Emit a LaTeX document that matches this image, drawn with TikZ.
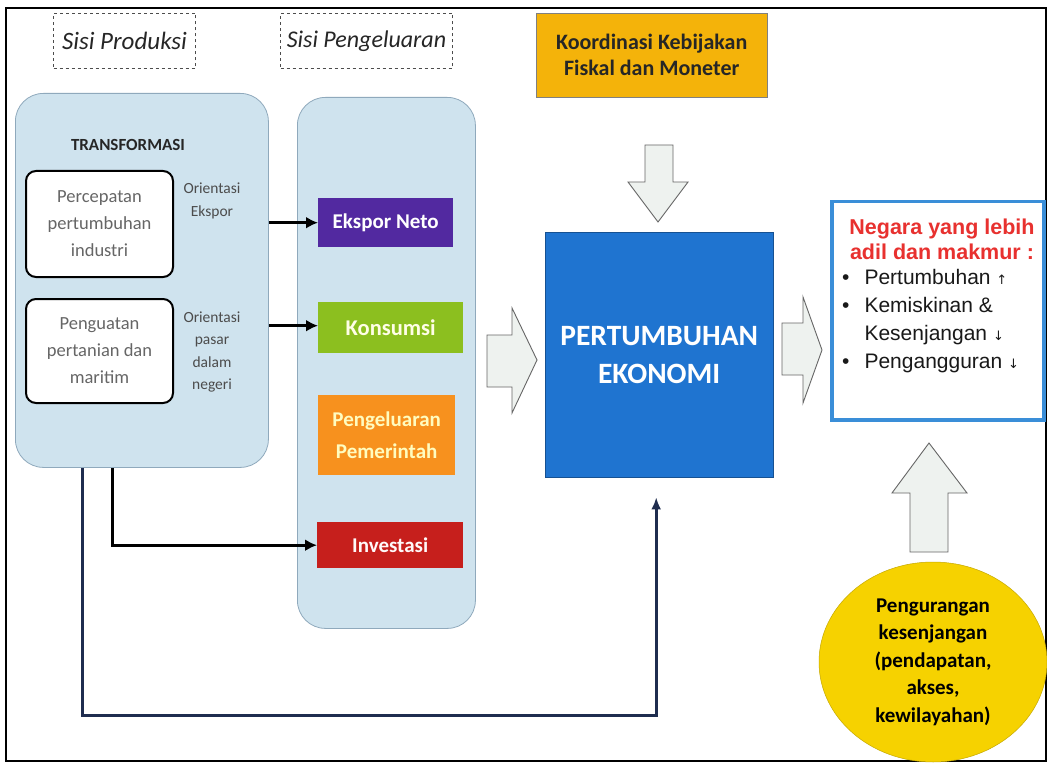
\documentclass[tikz,border=0pt]{standalone}
\usepackage{fontspec}
\setmainfont{Carlito}
\newfontfamily\arialf{Liberation Sans}
\newfontfamily\djv{DejaVu Sans}
\usetikzlibrary{arrows.meta,shapes.geometric,calc}
\definecolor{panelblue}{HTML}{CFE3EE}
\definecolor{paneledge}{HTML}{8FA9BC}
\definecolor{ekspor}{HTML}{5229A0}
\definecolor{konsumsi}{HTML}{8CBF1F}
\definecolor{pemerintah}{HTML}{F7911E}
\definecolor{investasi}{HTML}{C61F1C}
\definecolor{mainblue}{HTML}{1F74D0}
\definecolor{koord}{HTML}{F4B30A}
\definecolor{yellowell}{HTML}{F6D200}
\definecolor{resred}{HTML}{E8312F}
\definecolor{resblue}{HTML}{3A8ED8}
\definecolor{blockfill}{HTML}{EEF2EF}
\definecolor{navy}{HTML}{1F2D4F}
\begin{document}
\begin{tikzpicture}[x=1pt,y=-1pt,
  sisilbl/.style={draw=black!70, dashed, line width=1pt, minimum width=142, minimum height=55, anchor=north west, font=\itshape\fontsize{25}{28}\selectfont, text=black!85},
  panel/.style={draw=paneledge, fill=panelblue, line width=0.8pt, rounded corners=28, anchor=north west},
  inner/.style={draw=black, fill=white, line width=2pt, rounded corners=10, anchor=north west, minimum width=147, minimum height=106, align=center, text=black!60, font=\fontsize{18.5}{27}\selectfont},
  orient/.style={align=center, text=black!70, font=\fontsize{15.5}{22.5}\selectfont},
  comp/.style={anchor=north west, align=center, text=white, font=\bfseries\fontsize{21}{32}\selectfont},
  conn/.style={line width=3pt, black, -{Latex[length=12pt,width=12pt]}},
  fbline/.style={line width=3pt, navy, -{Latex[length=12pt,width=10pt]}},
  blockarrow/.style={draw=black!60, fill=blockfill, line width=0.9pt, line join=miter}
]
\useasboundingbox (0,0) rectangle (1047,770);
\fill[white] (0,0) rectangle (1047,770);
\draw[line width=2pt, black] (6,8) rectangle (1046,761);

% headers
\node[sisilbl] (sp) at (53,13) {Sisi Produksi};
\node[sisilbl, minimum width=172, font=\itshape\fontsize{24}{28}\selectfont] (spg) at (280,13) {Sisi Pengeluaran};
\node[draw=black!50, fill=koord, anchor=north west, minimum width=231, minimum height=84, align=center, font=\bfseries\fontsize{22}{26}\selectfont, text=black!85] (koo) at (536,13) {Koordinasi Kebijakan\\Fiskal dan Moneter};

% left panel
\node[panel, minimum width=253, minimum height=374] (trans) at (15,93) {};
\node[font=\bfseries\fontsize{17}{19}\selectfont, text=black!85] (ttl) at (128,145) {TRANSFORMASI};
\node[inner] (ind) at (25,170) {Percepatan\\pertumbuhan\\industri};
\node[inner, minimum height=104] (tani) at (25,298) {Penguatan\\pertanian dan\\maritim};
\node[orient] (oe) at (212,201) {Orientasi\\Ekspor};
\node[orient] (opd) at (212,352) {Orientasi\\pasar\\dalam\\negeri};

% right panel
\node[panel, minimum width=178, minimum height=531] (peng) at (297,97) {};
\node[comp, fill=ekspor, minimum width=135, minimum height=49] (eks) at (318,198) {Ekspor Neto};
\node[comp, fill=konsumsi, minimum width=145, minimum height=51, text=white!90!yellow, font=\bfseries\fontsize{22.5}{30}\selectfont] (kon) at (318,302) {Konsumsi};
\node[comp, fill=pemerintah, minimum width=137, minimum height=80, text=yellow!25] (pem) at (318,395) {Pengeluaran\\Pemerintah};
\node[comp, fill=investasi, minimum width=146, minimum height=46, text=white!90!pink] (inv) at (317,522) {Investasi};

% main box
\node[fill=mainblue, draw=mainblue!70!black, anchor=north west, minimum width=228, minimum height=245, align=center, text=white, font=\bfseries\fontsize{29.5}{38}\selectfont] (pe) at (545,232) {PERTUMBUHAN\\EKONOMI};

% result box
\node[draw=resblue, line width=3.5pt, fill=white, anchor=north west, minimum width=212, minimum height=218] (res) at (830,200) {};
\node[align=center, text=resred, font=\arialf\bfseries\fontsize{21.5}{25}\selectfont] (restitle) at (942,239) {Negara yang lebih\\adil dan makmur :};
\node[anchor=north west, inner sep=0, text=black!90, font=\arialf\fontsize{21}{28}\selectfont] (reslist) at (842,265) {%
\begin{tabular}{@{}l@{\hspace{15pt}}l@{}}
\textbullet & Pertumbuhan {\djv\fontsize{13}{13}\selectfont ↑}\\
\textbullet & Kemiskinan \&\\
 & Kesenjangan {\djv\fontsize{13}{13}\selectfont ↓}\\
\textbullet & Pengangguran {\djv\fontsize{13}{13}\selectfont ↓}
\end{tabular}};

% ellipse
\node[ellipse, fill=yellowell, draw=yellowell!80!black, line width=0.5pt, minimum width=228, minimum height=200, align=center, text=black, font=\bfseries\fontsize{21}{27.5}\selectfont] (gap) at (933,662) {Pengurangan\\kesenjangan\\(pendapatan,\\akses,\\kewilayahan)};

% block arrows
\draw[blockarrow] (645,145) -- (673,145) -- (673,182) -- (688,182) -- (658,222) -- (628,182) -- (645,182) -- cycle;
\draw[blockarrow] (487,335) -- (512,335) -- (512,308) -- (537,360) -- (512,413) -- (512,387) -- (487,387) -- cycle;
\draw[blockarrow] (782,323) -- (803,323) -- (803,297) -- (822,350) -- (803,403) -- (803,375) -- (782,375) -- cycle;
\draw[blockarrow] (910,552) -- (910,493) -- (892,493) -- (929,443) -- (967,493) -- (948,493) -- (948,552) -- cycle;

% connectors
\draw[conn] (trans.east |- eks.west) -- (eks.west);
\draw[conn] ($(trans.east |- kon.west)+(0,-2)$) -- ($(kon.west)+(0,-2)$);
\draw[conn] ($(trans.south west)+(97,0)$) |- (inv.west);
\draw[fbline] ($(trans.south west)+(67,0)$) -- ++(0,248) -| ([yshift=-20pt, xshift=-3pt]pe.south);
\end{tikzpicture}
\end{document}
